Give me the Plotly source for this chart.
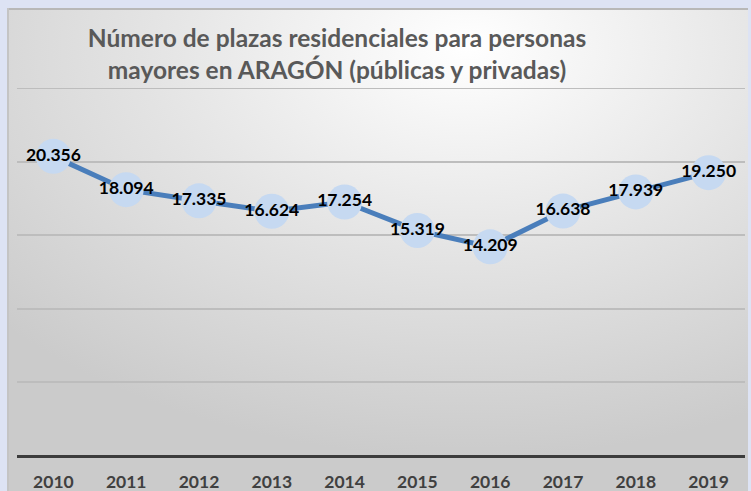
import base64
import plotly.graph_objects as go

years = ["2010", "2011", "2012", "2013", "2014", "2015", "2016", "2017", "2018", "2019"]
plazas = [20356, 18094, 17335, 16624, 17254, 15319, 14209, 16638, 17939, 19250]
labels = [f"{v:,}".replace(",", ".") for v in plazas]
y_max = 25000
y_step = 5000

W, H = 751, 491
L, R, T, B = 17, 6, 88, 35
pw, ph = W - L - R, H - T - B

svg = f'''<svg xmlns="http://www.w3.org/2000/svg" width="741" height="483" viewBox="0 0 741 483" preserveAspectRatio="none">
<defs><radialGradient id="g" cx="0.62" cy="0.08" r="0.85">
<stop offset="0" stop-color="#ffffff"/>
<stop offset="0.5" stop-color="#e4e4e4"/>
<stop offset="1" stop-color="#cbcbcb"/>
</radialGradient></defs>
<rect x="0" y="0" width="741" height="483" fill="url(#g)"/>
<rect x="0" y="0" width="741" height="2" fill="#b8b8b8"/>
<rect x="0" y="0" width="2" height="483" fill="#c4c4c4"/>
</svg>'''
uri = "data:image/svg+xml;base64," + base64.b64encode(svg.encode()).decode()

fig = go.Figure()
fig.add_trace(go.Scatter(
    x=years, y=plazas, mode="lines+markers+text",
    line=dict(color="#4a7ebb", width=5),
    marker=dict(size=35, color="#c6d9f1"),
    text=labels, textposition="middle center",
    textfont=dict(family="Lato", size=17.5, color="#000000", weight="bold"),
    cliponaxis=False, hoverinfo="skip",
))

x0 = (7 - L) / pw
x1 = (748 - L) / pw
y1 = 1 + (T - 8) / ph
y0 = -(B) / ph
fig.add_layout_image(dict(source=uri, xref="paper", yref="paper", x=x0, y=y1,
                          sizex=x1 - x0, sizey=y1 - y0, sizing="stretch",
                          xanchor="left", yanchor="top", layer="below"))
fig.add_hline(y=y_max, line=dict(color="#bdbdbd", width=2), layer="below")

fig.update_layout(
    width=W, height=H, autosize=False,
    margin=dict(l=L, r=R, t=T, b=B, autoexpand=False),
    paper_bgcolor="#dde3f4", plot_bgcolor="rgba(0,0,0,0)",
    showlegend=False,
    title=dict(text="Número de plazas residenciales para personas<br>mayores en ARAGÓN (públicas y privadas)",
               x=337 / W, xanchor="center", y=1 - 47 / H, yanchor="middle",
               font=dict(family="Lato", size=24.5, color="#595959", weight="bold")),
    xaxis=dict(type="category", range=[-0.5, 9.5], showgrid=False, zeroline=False,
               showline=False, ticks="", ticklabelstandoff=13, automargin=False,
               tickfont=dict(family="Lato", size=17.5, color="#404040", weight="bold")),
    yaxis=dict(range=[0, y_max], dtick=y_step, showticklabels=False, showgrid=True,
               gridcolor="#bdbdbd", gridwidth=2, zeroline=True, zerolinecolor="#3c3c3c",
               zerolinewidth=3, showline=False, automargin=False),
)
fig.write_html("out.html", config={"displayModeBar": False},
               post_script="document.body.style.margin='0';document.body.style.padding='0';")
